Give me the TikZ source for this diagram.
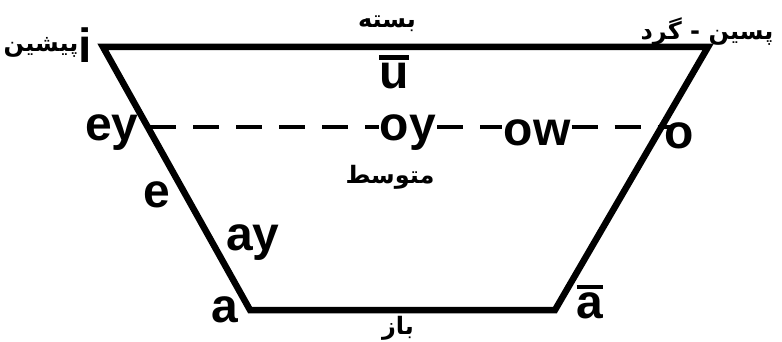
\documentclass[tikz,border=0pt]{standalone}
\usepackage{fontspec}
\setmainfont{Liberation Sans}
\newfontfamily\arabicfont[Script=Arabic]{DejaVu Sans}
\TeXXeTstate=1
\usetikzlibrary{positioning}

% long vowel with a heavy bar on top
\newcommand\longvowel[1]{\vbox{\hrule height 4.5pt\kern 3.5pt\hbox{#1}}}

\begin{document}
\begin{tikzpicture}[
        x=1pt, y=-1pt,
        edge/.style={
            line width=6.5pt,
            line join=miter
        },
        midline/.style={
            line width=3.5pt,
            dash pattern=on 26pt off 17pt
        },
        vowel/.style={
            font=\fontsize{48}{52}\selectfont\bfseries,
            inner sep=1pt
        },
        fatext/.style={
            font=\fontsize{24}{28}\selectfont\arabicfont\bfseries,
            inner sep=1pt
        }
    ]
    \useasboundingbox (0,0) rectangle (782,342);

    % corners of the vowel chart
    \coordinate (tl) at (103,47);
    \coordinate (tr) at (708,47);
    \coordinate (br) at (555,310);
    \coordinate (bl) at (250,310);
    \coordinate (ml) at (150,127);
    \coordinate (mr) at (672,127);

    \draw[edge] (tl) -- (tr) -- (br) -- (bl) -- cycle;

    \node[vowel] (oy) at (408,133) {oy};
    \node[vowel] (ow) at (537,133) {ow};
    \node[vowel] (ey) at (112,133) {ey};
    \node[vowel] (o) at (679,136) {o};
    \node[vowel] (i) at (85,45) {i};
    \node[vowel] (u) at (394,72) {\longvowel{u}};
    \node[vowel] (e) at (157,195) {e};
    \node[vowel] (ay) at (253,243) {ay};
    \node[vowel] (a) at (225,310) {a};
    \node[vowel] (abar) at (590,302) {\longvowel{a}};

    \draw[midline] (ml) -- (oy.west |- ml);
    \draw[midline] (oy.east |- ml) -- (ow.west |- ml);
    \draw[midline] (ow.east |- ml) -- (mr);

    \node[fatext] (front) at (41,47) {\beginR پیشین\endR};
    \node[fatext] (back) at (707,32) {\beginR پسین - گرد\endR};
    \node[fatext] (closed) at (387,24) {\beginR بسته\endR};
    \node[fatext] (mid) at (390,177) {\beginR متوسط\endR};
    \node[fatext] (open) at (398,328) {\beginR باز\endR};

\end{tikzpicture}
\end{document}
